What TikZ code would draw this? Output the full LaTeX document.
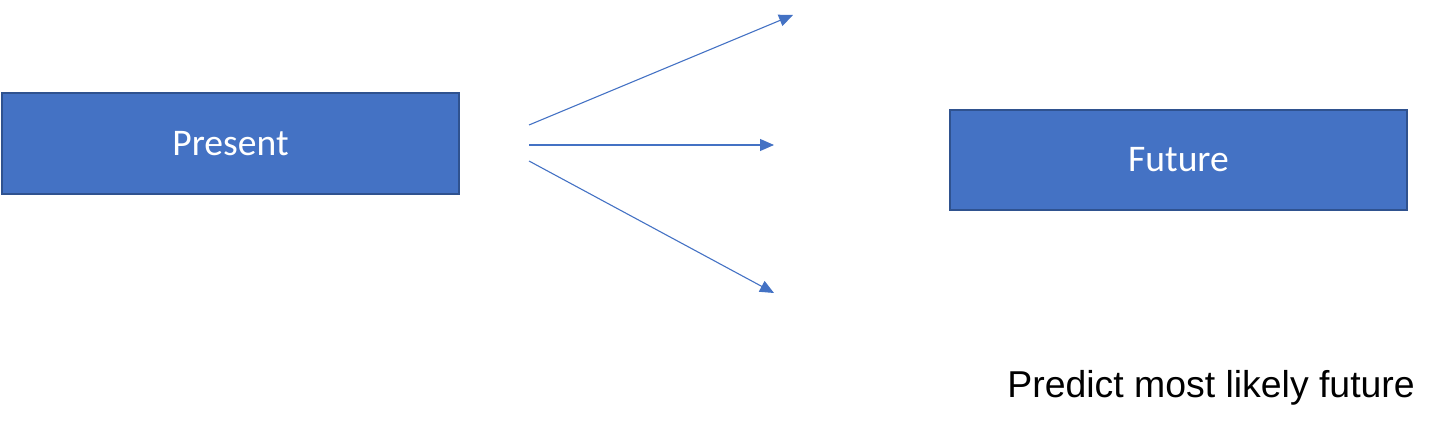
\documentclass[tikz,border=0pt]{standalone}
\usepackage{fontspec}
\setmainfont{Carlito}
\newfontfamily\arialfont{Liberation Sans}
\usetikzlibrary{arrows.meta}
\definecolor{boxblue}{HTML}{4472C4}
\definecolor{boxedge}{HTML}{2F528F}
\begin{document}
\begin{tikzpicture}[x=0.5pt,y=-0.5pt,
  blockbox/.style={draw=boxedge,line width=0.8pt,fill=boxblue,text=white,inner sep=0pt,font=\fontsize{18.8}{22}\selectfont},
  flow/.style={draw=boxblue,line width=0.55pt,-{Triangle[length=7pt,width=6pt]}}]
\useasboundingbox (0,0) rectangle (1441,431);
\node[blockbox,minimum width=228.5pt,minimum height=50.5pt] (present) at (230.5,143.5) {Present};
\node[blockbox,minimum width=228.5pt,minimum height=50pt] (future) at (1178.5,160) {Future};
\coordinate (s1) at (529,125);
\coordinate (s2) at (529,145);
\coordinate (s3) at (529,161);
\coordinate (e1) at (793,15);
\coordinate (e2) at (774,145);
\coordinate (e3) at (774,293);
\draw[flow] (s1) -- (e1);
\draw[flow] (s2) -- (e2);
\draw[flow] (s3) -- (e3);
\node[anchor=base west,inner sep=0pt,font=\arialfont\fontsize{18.7}{22}\selectfont] (note) at (1007,398) {Predict most likely future};
\end{tikzpicture}
\end{document}
